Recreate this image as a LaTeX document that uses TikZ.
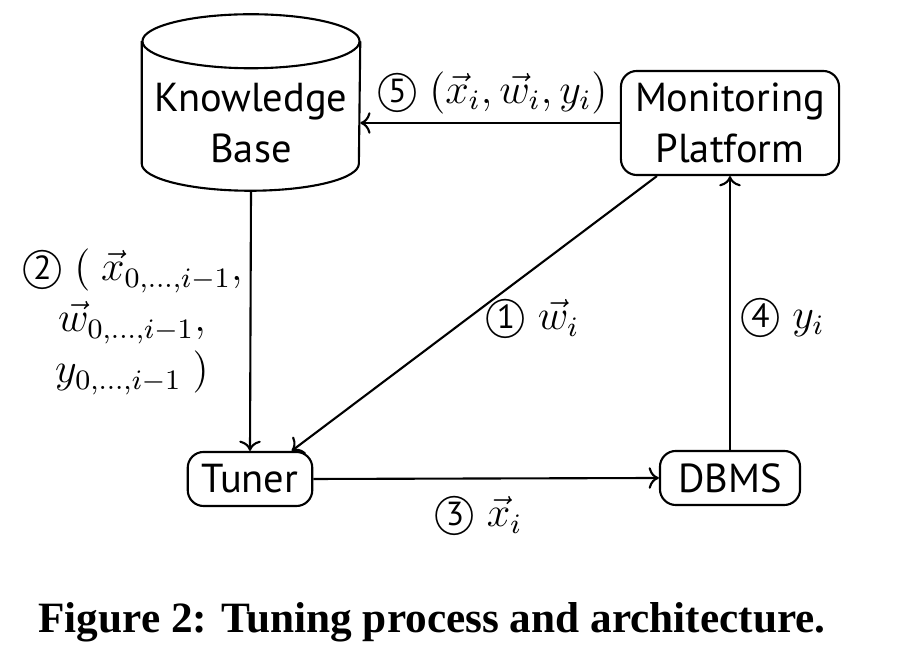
\documentclass[tikz,border=0pt]{standalone}
\usepackage{amsmath,amssymb}
\usepackage{fontspec}
\setmainfont{PT Sans}
\newfontfamily\captionfont{Liberation Serif}
\usetikzlibrary{arrows.meta}
\newcommand{\stepno}[1]{\ooalign{$\bigcirc$\cr\hidewidth\raisebox{0.05ex}{\fontsize{9.5}{10}\selectfont#1}\hidewidth\cr}}
\newcommand{\vect}[1]{\vec{#1}}

\begin{document}
\begin{tikzpicture}[x=0.01cm,y=-0.01cm,
    font=\fontsize{11.5}{14.5}\selectfont,
    box/.style={draw,rounded corners=4.5pt,align=center,inner xsep=4pt,inner ysep=3.4pt,
      minimum height=0.54cm,line width=0.6pt},
    store/.style={minimum width=2.17cm,minimum height=1.75cm,inner sep=0pt},
    lidsize/.style={x radius=1.085cm,y radius=0.27cm},
    flow/.style={->,line width=0.6pt}]
  \useasboundingbox (0,0) rectangle (921,659);
  % knowledge base drawn as a cylinder round an empty node
  \node[store] (kb) at (251,102.5) {};
  \draw[line width=0.6pt] ([yshift=-0.27cm]kb.north west) -- ([yshift=0.27cm]kb.south west)
    arc[start angle=180,end angle=360,lidsize] -- ([yshift=-0.27cm]kb.north east);
  \draw[line width=0.6pt] ([yshift=-0.27cm]kb.north) ellipse[lidsize];
  \node[align=center] (kbtext) at (251,123) {Knowledge\\Base};
  \node[box] (mon) at (730,123) {Monitoring\\Platform};
  \node[box] (tuner) at (250,479) {Tuner};
  \node[box,minimum width=1.4cm] (dbms) at (730,478) {DBMS};
  \draw[flow] (mon.west) -- (mon.west -| kb.east);
  \draw[flow] (kb.south) -- (tuner.north);
  \draw[flow] (mon.216) -- (tuner.34);
  \draw[flow] (dbms.north) -- (mon.south);
  \draw[flow] (tuner.east) -- (dbms.west);
  \node (lblfive) at (492,93) {\stepno{5} $(\vect{x}_i, \vect{w}_i, y_i)$};
  \node[align=center] (lbltwo) at (132,322) {\stepno{2} $(\ \vect{x}_{0,\dots,i-1},$\\
    $\vect{w}_{0,\dots,i-1},$\\ $y_{0,\dots,i-1}\ )$};
  \node (lblone) at (532,318) {\stepno{1} $\vect{w}_i$};
  \node (lblfour) at (782,318) {\stepno{4} $y_i$};
  \node (lblthree) at (478,515) {\stepno{3} $\vect{x}_i$};
  \node[font=\captionfont\bfseries\fontsize{12.3}{14}\selectfont] (caption) at (432,622)
    {Figure 2: Tuning process and architecture.};
\end{tikzpicture}
\end{document}
